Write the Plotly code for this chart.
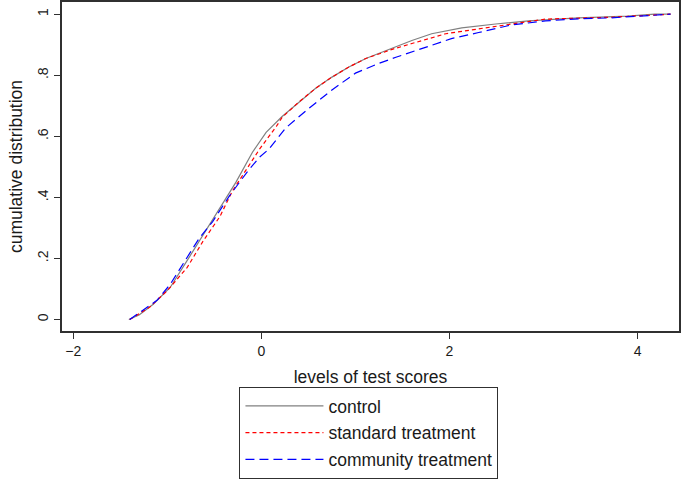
import plotly.graph_objects as go

# Control (gray solid)
control_x = [-1.41, -1.30, -1.15, -0.97, -0.79, -0.62, -0.44, -0.27, -0.095, 0.05, 0.22, 0.40, 0.58, 0.75, 0.93, 1.11, 1.39, 1.60, 1.81, 2.13, 2.49, 2.84, 3.37, 3.89, 4.18, 4.35]
control_y = [0.0, 0.015, 0.05, 0.105, 0.193, 0.277, 0.364, 0.45, 0.548, 0.613, 0.665, 0.713, 0.758, 0.794, 0.827, 0.855, 0.89, 0.914, 0.936, 0.955, 0.968, 0.978, 0.988, 0.994, 1.0, 1.0]

# Standard treatment (red short dash)
standard_x = [-1.40, -1.19, -1.00, -0.79, -0.62, -0.44, -0.31, -0.16, -0.02, 0.16, 0.22, 0.40, 0.58, 0.75, 0.93, 1.11, 1.39, 1.60, 1.96, 2.31, 2.66, 3.02, 3.71, 4.35]
standard_y = [0.0, 0.04, 0.095, 0.17, 0.257, 0.338, 0.42, 0.493, 0.558, 0.633, 0.662, 0.713, 0.758, 0.794, 0.827, 0.855, 0.885, 0.904, 0.936, 0.952, 0.968, 0.984, 0.99, 1.0]

# Community treatment (blue long dash)
community_x = [-1.40, -1.26, -1.11, -0.97, -0.79, -0.66, -0.52, -0.41, -0.34, -0.15, -0.02, 0.08, 0.26, 0.51, 0.75, 1.00, 1.25, 1.43, 1.70, 2.02, 2.31, 2.66, 3.02, 3.37, 3.71, 4.07, 4.35]
community_y = [0.0, 0.03, 0.063, 0.115, 0.203, 0.267, 0.32, 0.374, 0.405, 0.484, 0.532, 0.558, 0.628, 0.693, 0.752, 0.807, 0.839, 0.859, 0.888, 0.92, 0.94, 0.965, 0.978, 0.985, 0.988, 0.994, 1.0]

series_names = ["control", "standard treatment", "community treatment"]
x_ticks = [-2, 0, 2, 4]
y_ticks = [0, 0.2, 0.4, 0.6, 0.8, 1]
y_tick_labels = ["0", ".2", ".4", ".6", ".8", "1"]

font = "Liberation Sans, Arial, sans-serif"

fig = go.Figure()
fig.add_trace(go.Scatter(x=control_x, y=control_y, mode="lines", name=series_names[0],
                         legendgroup="a", line=dict(color="#808080", width=1.2)))
fig.add_trace(go.Scatter(x=standard_x, y=standard_y, mode="lines", name=series_names[1],
                         legendgroup="b", line=dict(color="#ff0000", width=1.2, dash="4px,3px")))
fig.add_trace(go.Scatter(x=community_x, y=community_y, mode="lines", name=series_names[2],
                         legendgroup="c", line=dict(color="#0000ff", width=1.2, dash="9px,5px")))

fig.update_layout(
    width=681, height=479,
    margin=dict(l=62, r=0, t=1, b=144),
    paper_bgcolor="white", plot_bgcolor="white",
    font=dict(family=font, size=14, color="#1a1a1a"),
    showlegend=True,
    legend=dict(x=0.2876, y=-0.171, xanchor="left", yanchor="top",
                bordercolor="#303030", borderwidth=1, bgcolor="white",
                font=dict(size=17.5), tracegroupgap=1, traceorder="grouped",
                itemwidth=78),
)
fig.update_xaxes(range=[-2.12, 4.44], tickvals=x_ticks, ticks="outside", ticklen=6,
                 tickcolor="#303030", showline=True, linecolor="#303030", linewidth=2,
                 mirror=True, showgrid=False, zeroline=False,
                 title=dict(text="levels of test scores", standoff=13, font=dict(size=17.5)))
fig.update_yaxes(range=[-0.0375, 1.04], tickvals=y_ticks, ticktext=y_tick_labels,
                 tickangle=-90, ticks="outside", ticklen=6, tickcolor="#303030",
                 showline=True, linecolor="#303030", linewidth=2, mirror=True,
                 showgrid=False, zeroline=False,
                 title=dict(text="cumulative distribution", standoff=8, font=dict(size=17.5)))

fig.write_html("out.html")
